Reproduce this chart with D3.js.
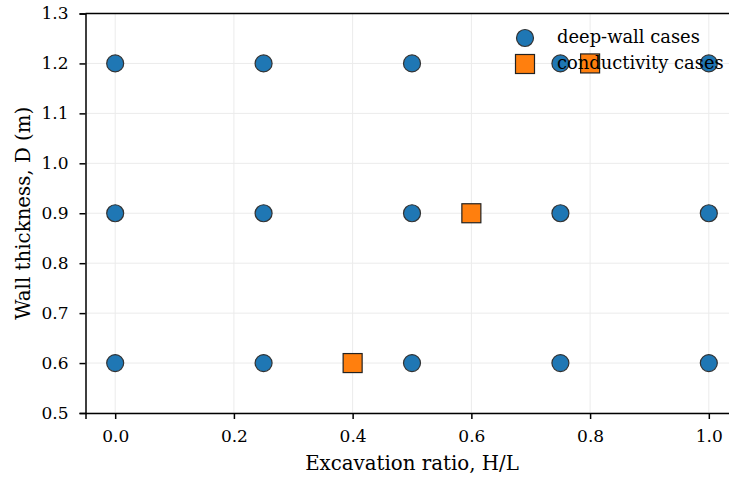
<!DOCTYPE html>
<html>
<head>
  <meta charset="utf-8">
  <script src="https://cdn.jsdelivr.net/npm/d3@7/dist/d3.min.js"></script>
  <style>
    body { margin: 0; background: #fff; }
    text { font-family: "DejaVu Serif", serif; fill: #000; }
  </style>
</head>
<body>
<svg id="chart" width="729" height="479"></svg>
<script>
  // deep-wall cases: every excavation ratio crossed with every wall thickness
  var deepRatios = [0.0, 0.25, 0.5, 0.75, 1.0];
  var deepThickness = [0.6, 0.9, 1.2];
  // conductivity cases
  var condRatios = [0.4, 0.6, 0.8];
  var condThickness = [0.6, 0.9, 1.2];

  var xTicks = [0.0, 0.2, 0.4, 0.6, 0.8, 1.0];
  var yTicks = [0.5, 0.6, 0.7, 0.8, 0.9, 1.0, 1.1, 1.2, 1.3];

  var deepCases = [];
  deepThickness.forEach(function (t) {
    deepRatios.forEach(function (r) { deepCases.push({ x: r, y: t }); });
  });
  var condCases = condRatios.map(function (r, i) { return { x: r, y: condThickness[i] }; });

  var svg = d3.select("#chart"),
    margin = { left: 85.5, top: 13.5, bottom: 413 },
    plotRight = 738.5;

  var x = d3.scaleLinear().domain([-0.05, 1.05]).range([margin.left, plotRight]);
  var y = d3.scaleLinear().domain([0.5, 1.3]).range([margin.bottom, margin.top]);

  // grid
  var grid = svg.append("g").attr("stroke", "#ebebeb").attr("stroke-width", 1);
  grid.selectAll(".vx").data(xTicks).enter().append("line")
    .attr("x1", d => x(d)).attr("x2", d => x(d))
    .attr("y1", margin.top).attr("y2", margin.bottom);
  grid.selectAll(".hy").data(yTicks).enter().append("line")
    .attr("y1", d => y(d)).attr("y2", d => y(d))
    .attr("x1", margin.left).attr("x2", plotRight);

  // axes
  var xAxis = svg.append("g")
    .attr("transform", "translate(0," + margin.bottom + ")")
    .call(d3.axisBottom(x).tickValues(xTicks).tickFormat(d3.format(".1f")).tickSizeOuter(0).tickSize(6).tickPadding(11));
  var yAxis = svg.append("g")
    .attr("transform", "translate(" + margin.left + ",0)")
    .call(d3.axisLeft(y).tickValues(yTicks).tickFormat(d3.format(".1f")).tickSizeOuter(0).tickSize(6).tickPadding(11));
  [xAxis, yAxis].forEach(function (a) {
    a.select(".domain").attr("stroke", "#000").attr("stroke-width", 1.5);
    a.selectAll(".tick line").attr("stroke", "#000").attr("stroke-width", 1.5);
    a.selectAll(".tick text").style("font-family", "DejaVu Serif").style("font-size", "17px").attr("fill", "#000");
  });

  // top spine
  svg.append("line")
    .attr("x1", margin.left).attr("x2", plotRight)
    .attr("y1", margin.top).attr("y2", margin.top)
    .attr("stroke", "#000").attr("stroke-width", 1.5);

  // axis labels
  svg.append("text")
    .attr("x", x(0.5)).attr("y", 470)
    .attr("text-anchor", "middle").style("font-size", "19.8px")
    .text("Excavation ratio, H/L");
  svg.append("text")
    .attr("transform", "translate(30," + y(0.9) + ") rotate(-90)")
    .attr("text-anchor", "middle").style("font-size", "19.8px")
    .text("Wall thickness, D (m)");

  var blue = "#1f77b4", orange = "#ff7f0e";

  svg.append("g").selectAll("circle").data(deepCases).enter().append("circle")
    .attr("cx", d => x(d.x)).attr("cy", d => y(d.y)).attr("r", 8.5)
    .attr("fill", blue).attr("stroke", "#333").attr("stroke-width", 1.2);

  var sq = 19;
  svg.append("g").selectAll("rect").data(condCases).enter().append("rect")
    .attr("x", d => x(d.x) - sq / 2).attr("y", d => y(d.y) - sq / 2)
    .attr("width", sq).attr("height", sq)
    .attr("fill", orange).attr("stroke", "#222").attr("stroke-width", 1.2);

  // legend (no frame)
  var legend = svg.append("g");
  legend.append("circle").attr("cx", 525).attr("cy", 38).attr("r", 8.5)
    .attr("fill", blue).attr("stroke", "#333").attr("stroke-width", 1.2);
  legend.append("rect").attr("x", 525 - sq / 2).attr("y", 64 - sq / 2).attr("width", sq).attr("height", sq)
    .attr("fill", orange).attr("stroke", "#222").attr("stroke-width", 1.2);
  legend.append("text").attr("x", 557).attr("y", 43).style("font-size", "17.9px").text("deep-wall cases");
  legend.append("text").attr("x", 557).attr("y", 69).style("font-size", "17.9px").text("conductivity cases");
</script>
</body>
</html>
